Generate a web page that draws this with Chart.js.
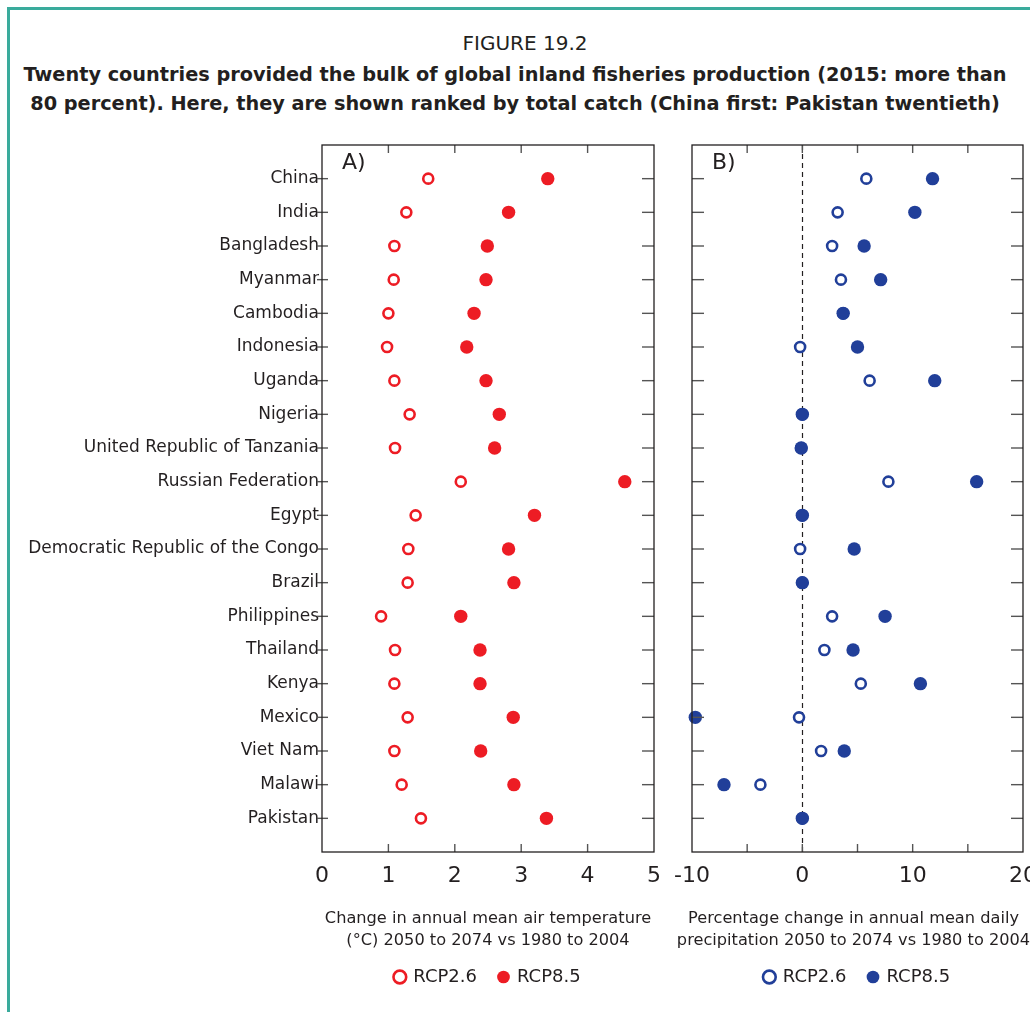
<!DOCTYPE html>
<html>
<head>
<meta charset="utf-8">
<title>Figure 19.2</title>
<script src="https://cdn.jsdelivr.net/npm/chart.js@4.4.1/dist/chart.umd.min.js"></script>
<style>
    body {
        margin: 0;
        width: 1030px;
        height: 1012px;
        position: relative;
        overflow: hidden;
        background: #fff;
        font-family: 'DejaVu Sans', sans-serif;
        color: #231f20;
    }
    .frame {
        position: absolute;
        left: 7px;
        top: 7px;
        width: 1100px;
        height: 1100px;
        border-left: 3px solid #3aab9c;
        border-top: 3px solid #3aab9c;
    }
    .fig-no {
        position: absolute;
        top: 31px;
        left: 10px;
        width: 1030px;
        text-align: center;
        font-size: 20px;
    }
    .fig-title {
        position: absolute;
        top: 60px;
        left: 0;
        width: 1030px;
        text-align: center;
        font-size: 19.3px;
        font-weight: bold;
        line-height: 29px;
        white-space: nowrap;
    }
    #wrapA { position: absolute; left: 0; top: 140px; }
    #wrapB { position: absolute; left: 670px; top: 140px; }
</style>
</head>
<body>
<div class="frame"></div>
<div class="fig-no">FIGURE 19.2</div>
<div class="fig-title">Twenty countries provided the bulk of global inland fisheries production (2015: more than<br>80 percent). Here, they are shown ranked by total catch (China first: Pakistan twentieth)</div>
<div id="wrapA"><canvas id="chartA" width="670" height="860"></canvas></div>
<div id="wrapB"><canvas id="chartB" width="360" height="860"></canvas></div>

<script>
// ==================== DATOS ====================
const countries = [
    'China', 'India', 'Bangladesh', 'Myanmar', 'Cambodia', 'Indonesia', 'Uganda',
    'Nigeria', 'United Republic of Tanzania', 'Russian Federation', 'Egypt',
    'Democratic Republic of the Congo', 'Brazil', 'Philippines', 'Thailand',
    'Kenya', 'Mexico', 'Viet Nam', 'Malawi', 'Pakistan'
];

// A) cambio de temperatura media anual (°C)
const tempRcp26 = [1.60, 1.27, 1.09, 1.08, 1.00, 0.98, 1.09, 1.32, 1.10, 2.09,
                   1.41, 1.30, 1.29, 0.89, 1.10, 1.09, 1.29, 1.09, 1.20, 1.49];
const tempRcp85 = [3.40, 2.81, 2.49, 2.47, 2.29, 2.18, 2.47, 2.67, 2.60, 4.56,
                   3.20, 2.81, 2.89, 2.09, 2.38, 2.38, 2.88, 2.39, 2.89, 3.38];

// B) cambio porcentual de precipitación diaria media
const precipRcp26 = [5.8, 3.2, 2.7, 3.5, 3.7, -0.2, 6.1, 0.0, -0.1, 7.8,
                     0.0, -0.2, 0.0, 2.7, 2.0, 5.3, -0.3, 1.7, -3.8, 0.0];
const precipRcp85 = [11.8, 10.2, 5.6, 7.1, 3.7, 5.0, 12.0, 0.0, -0.1, 15.8,
                     0.0, 4.7, 0.0, 7.5, 4.6, 10.7, -9.7, 3.8, -7.1, 0.0];

const tempTicks = [0, 1, 2, 3, 4, 5];
const tempMarks = [1, 2, 3, 4];
const precipTicks = [-10, 0, 10, 20];
const precipMarks = [-5, 0, 5, 10, 15];

const RED = '#ed1c24';
const BLUE = '#213f99';
const INK = '#231f20';
const FONT = "'DejaVu Sans'";

// ==================== PLUGIN: marco, marcas internas, línea cero, títulos ====================
const panelDecor = {
    id: 'panelDecor',
    beforeDatasetsDraw(chart, args, opts) {
        if (opts.zeroLine === undefined) return;
        const { ctx, chartArea: a, scales: { x } } = chart;
        const px = Math.round(x.getPixelForValue(opts.zeroLine)) + 0.5;
        ctx.save();
        ctx.strokeStyle = INK;
        ctx.lineWidth = 1.2;
        ctx.setLineDash([5, 4]);
        ctx.beginPath();
        ctx.moveTo(px, a.top);
        ctx.lineTo(px, a.bottom);
        ctx.stroke();
        ctx.restore();
    },
    afterDatasetsDraw(chart, args, opts) {
        const { ctx, chartArea: a, scales: { x, y } } = chart;
        ctx.save();
        const seg = (x1, y1, x2, y2) => {
            ctx.beginPath();
            ctx.moveTo(x1, y1);
            ctx.lineTo(x2, y2);
            ctx.stroke();
        };
        ctx.strokeStyle = '#555';
        ctx.lineWidth = 1.4;
        opts.xMarks.forEach(v => {
            const px = x.getPixelForValue(v);
            seg(px, a.top, px, a.top + 8);
            seg(px, a.bottom, px, a.bottom - 8);
        });
        y.ticks.forEach(t => {
            const py = y.getPixelForValue(t.value);
            if (opts.crossLeft) seg(a.left - 5, py, a.left + 6, py);
            else seg(a.left, py, a.left + 12, py);
            seg(a.right - 12, py, a.right, py);
        });
        ctx.strokeStyle = INK;
        ctx.lineWidth = 1.3;
        ctx.strokeRect(a.left, a.top, a.width, a.height);

        ctx.fillStyle = INK;
        ctx.font = '22px ' + FONT;
        ctx.textBaseline = 'top';
        ctx.fillText(opts.label, a.left + 20, a.top + 7);

        // título del eje x en dos líneas, sin comprimir al ancho del panel
        ctx.font = '16.2px ' + FONT;
        ctx.textAlign = 'center';
        ctx.textBaseline = 'middle';
        const cx = (a.left + a.right) / 2 + opts.titleDx;
        opts.axisTitle.forEach((line, i) => {
            ctx.fillText(line, cx, a.bottom + 67 + i * 22);
        });
        ctx.restore();
    }
};

// ==================== GRÁFICOS ====================
function points(values) {
    return values.map((v, i) => ({ x: v, y: i + 1 }));
}

function openSeries(values, color) {
    return {
        label: 'RCP2.6',
        data: points(values),
        backgroundColor: '#fff',
        borderColor: color,
        borderWidth: 2.6,
        pointRadius: 5,
        order: 1,
        clip: false
    };
}

function filledSeries(values, color) {
    return {
        label: 'RCP8.5',
        data: points(values),
        backgroundColor: color,
        borderColor: color,
        borderWidth: 0,
        pointRadius: 6.7,
        order: 0,
        clip: false
    };
}

function buildChart(canvasId, cfg) {
    return new Chart(document.getElementById(canvasId), {
        type: 'scatter',
        data: {
            datasets: [openSeries(cfg.open, cfg.color), filledSeries(cfg.filled, cfg.color)]
        },
        options: {
            responsive: false,
            animation: false,
            devicePixelRatio: 1,
            layout: { padding: cfg.padding, autoPadding: false },
            plugins: {
                tooltip: { enabled: false },
                legend: {
                    position: 'bottom',
                    fullSize: cfg.legendFull,
                    labels: {
                        usePointStyle: true,
                        pointStyle: 'circle',
                        boxWidth: 9,
                        boxHeight: 9,
                        padding: 22,
                        color: INK,
                        font: { family: FONT, size: 18 },
                        sort: (a, b) => a.datasetIndex - b.datasetIndex
                    }
                },
                panelDecor: {
                    label: cfg.label,
                    xMarks: cfg.marks,
                    crossLeft: cfg.showNames,
                    zeroLine: cfg.zeroLine,
                    axisTitle: cfg.title,
                    titleDx: cfg.titleDx
                }
            },
            scales: {
                x: {
                    type: 'linear',
                    min: cfg.min,
                    max: cfg.max,
                    afterBuildTicks: scale => {
                        scale.ticks = cfg.ticks.map(v => ({ value: v }));
                    },
                    afterFit: scale => {
                        scale.height = 94;
                        scale.paddingLeft = 0;
                        scale.paddingRight = 0;
                    },
                    grid: { display: false, drawTicks: false },
                    border: { display: false },
                    ticks: {
                        padding: 11,
                        color: INK,
                        maxRotation: 0,
                        autoSkip: false,
                        font: { family: FONT, size: 22 }
                    }
                },
                y: {
                    type: 'linear',
                    reverse: true,
                    min: 0,
                    max: 21,
                    display: cfg.showNames,
                    afterBuildTicks: scale => {
                        scale.ticks = countries.map((c, i) => ({ value: i + 1 }));
                    },
                    afterFit: scale => {
                        scale.width = cfg.yWidth;
                        scale.paddingTop = 0;
                        scale.paddingBottom = 0;
                    },
                    grid: { display: false, drawTicks: false },
                    border: { display: false },
                    ticks: {
                        padding: 3,
                        color: INK,
                        autoSkip: false,
                        font: { family: FONT, size: 17 },
                        callback: value => countries[value - 1] || ''
                    }
                }
            }
        },
        plugins: [panelDecor]
    });
}

buildChart('chartA', {
    open: tempRcp26,
    filled: tempRcp85,
    color: RED,
    min: 0,
    max: 5,
    ticks: tempTicks,
    marks: tempMarks,
    label: 'A)',
    showNames: true,
    legendFull: false,
    yWidth: 322,
    titleDx: 0,
    padding: { left: 0, right: 16, top: 5, bottom: 4 },
    title: ['Change in annual mean air temperature', '(°C) 2050 to 2074 vs 1980 to 2004']
});

buildChart('chartB', {
    open: precipRcp26,
    filled: precipRcp85,
    color: BLUE,
    min: -10,
    max: 20,
    ticks: precipTicks,
    marks: precipMarks,
    label: 'B)',
    showNames: false,
    legendFull: true,
    yWidth: 0,
    titleDx: -4,
    zeroLine: 0,
    padding: { left: 22, right: 7, top: 5, bottom: 4 },
    title: ['Percentage change in annual mean daily', 'precipitation 2050 to 2074 vs 1980 to 2004']
});
</script>
</body>
</html>
